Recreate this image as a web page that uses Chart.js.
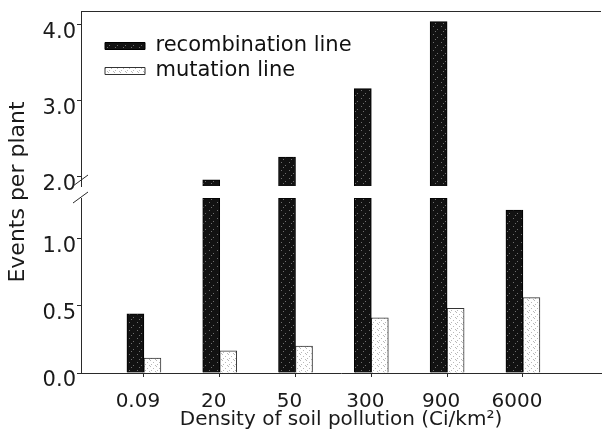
<!DOCTYPE html>
<html>
<head>
<meta charset="utf-8">
<script src="https://cdn.jsdelivr.net/npm/chart.js@4/dist/chart.umd.min.js"></script>
<style>
  html, body { margin: 0; padding: 0; background: #fff; }
  #wrap { width: 602px; height: 439px; }
</style>
</head>
<body>
<div id="wrap"><canvas id="myChart" width="602" height="439"></canvas></div>
<script>
// values
const categories = ['0.09', '20', '50', '300', '900', '6000'];
const recombination = [0.44, 1.96, 2.26, 3.16, 4.04, 1.21];
const mutation = [0.11, 0.165, 0.20, 0.41, 0.48, 0.56];
const lowerTicks = [0.0, 0.5, 1.0];
const upperTicks = [2.0, 3.0, 4.0];

// limits of the broken y axis
const LOW_MAX = 1.30;
const HIGH_MIN = 1.88;
const HIGH_MAX = 4.18;

const positions = categories.map((c, i) => i + 1);
const axisLine = '#2a2a2a';

// stippled fills like the printed bars
function dots(size, base, dot, pts) {
  const c = document.createElement('canvas');
  c.width = size; c.height = size;
  const g = c.getContext('2d');
  g.fillStyle = base;
  g.fillRect(0, 0, size, size);
  g.fillStyle = dot;
  pts.forEach(p => g.fillRect(p[0], p[1], 1, 1));
  return g.createPattern(c, 'repeat');
}
const darkFill = dots(8, '#121212', '#6e6e6e', [[1, 2], [5, 5], [3, 7]]);
const lightFill = dots(6, '#ffffff', '#b8b8b8', [[0, 0], [3, 2], [1, 4], [5, 5]]);

const lowRecomb = recombination.map((v, i) => ({x: positions[i], y: Math.min(v, LOW_MAX)}));
const highRecomb = recombination.map((v, i) => ({x: positions[i], y: v})).filter(p => p.y > HIGH_MIN);
const mutPts = mutation.map((v, i) => ({x: positions[i], y: v}));

Chart.defaults.font.family = "'DejaVu Sans', sans-serif";
Chart.defaults.color = '#1a1a1a';

// legend sits inside the plot, a bit off the corner
const legendSpot = {
  id: 'legendSpot',
  afterLayout(chart) {
    const lg = chart.legend, a = chart.chartArea;
    lg.left = a.left + 20;
    lg.top = a.top + 20.5;
    lg.right = a.right;
    lg.bottom = a.bottom;
  }
};

// top frame line and the // marks of the axis break
const frame = {
  id: 'frame',
  afterDraw(chart) {
    const ctx = chart.ctx, a = chart.chartArea;
    const lo = chart.scales.yLow, hi = chart.scales.yHigh;
    ctx.save();
    ctx.strokeStyle = axisLine;
    ctx.lineWidth = 1;
    ctx.beginPath();
    ctx.moveTo(a.left, a.top + 0.5);
    ctx.lineTo(a.right, a.top + 0.5);
    [hi.bottom - 6, lo.top - 1].forEach(y => {
      ctx.moveTo(a.left - 8, y + 6);
      ctx.lineTo(a.left + 7, y - 5);
    });
    ctx.stroke();
    ctx.restore();
  }
};

const yTicks = {font: {size: 21}, padding: 1, labelOffset: 8, color: '#1a1a1a', callback: v => v.toFixed(1)};
const yGrid = {drawOnChartArea: false, tickLength: 4, color: axisLine};
const yFit = s => { s.width = 76; s.paddingTop = 0; s.paddingBottom = 0; };

new Chart(document.getElementById('myChart'), {
  type: 'bar',
  data: {
    datasets: [
      {label: 'recombination line', data: lowRecomb, yAxisID: 'yLow', stack: 'r',
       backgroundColor: darkFill, borderColor: '#000', borderWidth: 1},
      {label: 'recombination line', data: highRecomb, yAxisID: 'yHigh', stack: 'r', base: HIGH_MIN,
       backgroundColor: darkFill, borderColor: '#000', borderWidth: 1},
      {label: 'mutation line', data: mutPts, yAxisID: 'yLow', stack: 'm',
       backgroundColor: lightFill, borderColor: '#333', borderWidth: 1}
    ]
  },
  options: {
    responsive: false,
    animation: false,
    devicePixelRatio: 1,
    layout: {padding: {left: 5, top: 11, right: 1, bottom: 0}},
    datasets: {bar: {barThickness: 17}},
    plugins: {
      tooltip: {enabled: false},
      legend: {
        position: 'chartArea',
        align: 'start',
        labels: {
          boxWidth: 40, boxHeight: 7, padding: 4,
          font: {size: 21}, color: '#111',
          filter: item => item.datasetIndex !== 1
        }
      }
    },
    scales: {
      x: {
        type: 'linear',
        position: 'bottom',
        offset: false,
        min: 0.17,
        max: 7.03,
        afterBuildTicks: s => { s.ticks = positions.map(v => ({value: v})); },
        afterFit: s => { s.height = 66; },
        ticks: {font: {size: 20}, padding: 13, labelOffset: -6, maxRotation: 0, color: '#1a1a1a', callback: v => categories[v - 1]},
        grid: {drawOnChartArea: false, offset: false, tickLength: 4, color: axisLine},
        border: {color: axisLine},
        title: {display: true, text: 'Density of soil pollution (Ci/km²)', font: {size: 20}, padding: {top: 0, bottom: 7}}
      },
      yLow: {
        type: 'linear', position: 'left', stack: 'y', stackWeight: 175,
        min: 0, max: LOW_MAX,
        afterBuildTicks: s => { s.ticks = lowerTicks.map(v => ({value: v})); },
        afterFit: yFit,
        ticks: yTicks, grid: yGrid, border: {color: axisLine}
      },
      yGap: {
        type: 'linear', position: 'left', stack: 'y', stackWeight: 12,
        min: 0, max: 1,
        afterFit: yFit,
        ticks: {display: false}, grid: {display: false}, border: {display: false},
        title: {display: true, text: 'Events per plant', font: {size: 22}, padding: 0}
      },
      yHigh: {
        type: 'linear', position: 'left', stack: 'y', stackWeight: 175,
        min: HIGH_MIN, max: HIGH_MAX,
        afterBuildTicks: s => { s.ticks = upperTicks.map(v => ({value: v})); },
        afterFit: yFit,
        ticks: yTicks, grid: yGrid, border: {color: axisLine}
      }
    }
  },
  plugins: [legendSpot, frame]
});
</script>
</body>
</html>
